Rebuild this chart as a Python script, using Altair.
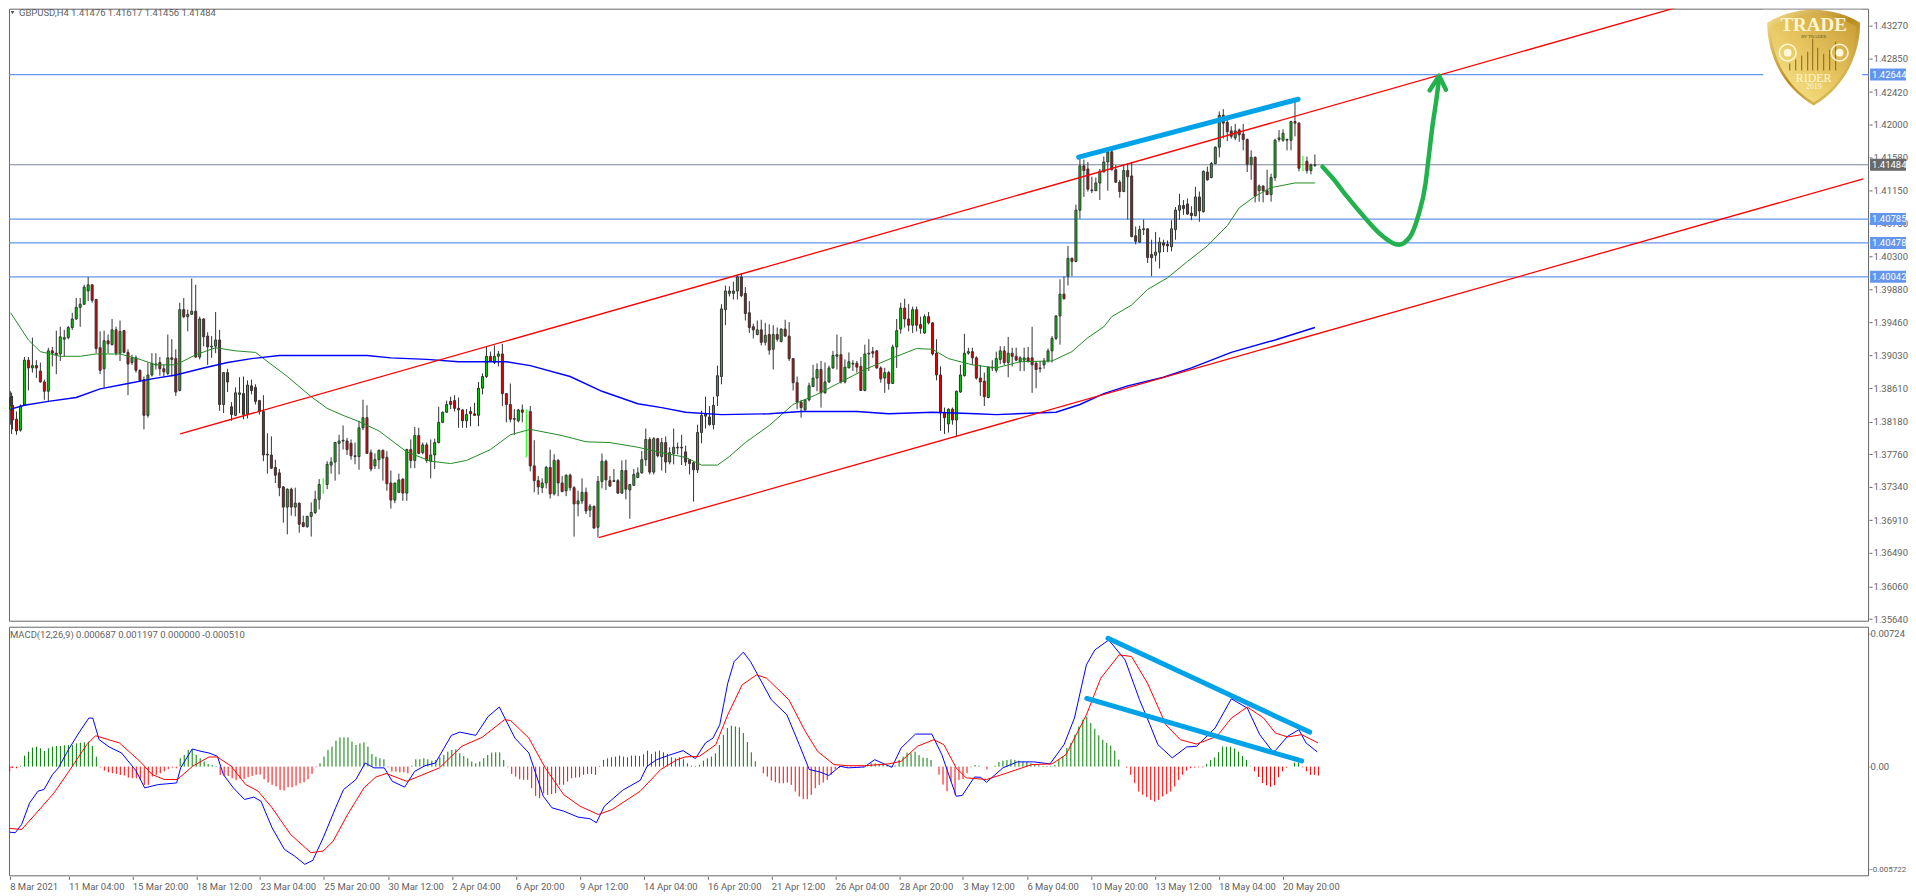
import altair as alt
import pandas as pd

# Prices are kept in pips above 1.36000
BASE = 1.36
opens = [233,250,239,221,207,239,297,287,290,283,269,257,309,306,305,324,326,339,350,365,
369,386,394,375,313,286,322,317,336,306,335,307,294,300,284,272,226,278,291,294,
286,280,300,299,258,362,353,356,360,301,350,328,314,315,323,240,281,237,226,253,
254,228,264,262,245,231,176,175,159,152,134,108,131,108,113,88,83,96,101,118,
138,137,162,166,190,194,193,190,173,173,210,223,178,161,169,181,172,139,117,127,
144,126,182,168,200,178,188,167,175,191,217,230,244,245,235,233,219,231,228,226,
261,276,302,294,302,305,254,240,222,219,233,231,231,161,142,133,139,159,125,168,
139,129,149,133,112,116,127,104,109,82,141,167,142,141,142,126,155,130,136,146,
152,169,195,153,196,173,191,166,177,185,185,179,169,165,156,204,225,224,214,251,
276,362,383,383,386,404,383,358,340,330,336,320,330,311,330,321,337,328,299,268,
243,233,246,263,274,285,255,269,287,302,304,269,287,292,293,289,258,305,308,309,
287,274,281,267,314,337,364,350,342,362,343,332,353,345,306,278,230,215,234,220,
256,277,306,308,300,274,270,249,287,284,298,309,294,306,302,295,297,300,300,293,
287,291,296,309,325,354,382,405,428,424,490,547,543,516,515,525,539,552,565,542,
526,514,541,534,457,449,465,466,433,432,436,448,446,443,465,490,496,498,486,483,
507,488,539,532,550,571,612,603,592,583,593,588,581,549,558,515,521,515,510,532,
581,580,580,580,604,602,544,553,541,547.6]
highs = [257,255,251,231,240,301,301,326,297,294,272,313,314,335,340,336,341,358,377,377,
394,404,394,376,334,335,330,350,340,348,336,311,304,303,285,276,294,306,306,301,
291,330,324,311,371,377,362,402,394,353,351,333,328,359,336,281,286,243,262,275,
276,271,272,266,246,252,203,199,169,157,135,132,133,133,114,97,97,114,129,144,
145,167,172,192,201,213,197,195,191,219,246,239,182,177,182,182,180,155,139,151,
145,183,195,211,210,191,191,195,196,237,231,245,250,252,249,234,234,237,242,269,
280,314,308,316,309,318,254,267,234,234,240,234,238,194,148,145,161,182,176,170,
148,150,151,135,129,145,133,112,110,148,177,169,148,157,144,168,169,137,157,159,
180,209,198,198,197,197,199,185,209,191,201,187,170,167,214,232,250,238,250,290,
369,393,392,398,407,409,391,373,344,348,349,345,343,342,339,338,349,346,299,276,
246,246,268,291,293,296,294,290,309,330,327,298,307,297,296,301,317,324,314,310,
289,287,283,317,350,371,376,369,366,366,353,356,359,346,324,289,236,235,236,258,
291,331,313,313,302,291,281,289,297,308,315,315,327,313,313,302,313,314,340,296,
296,300,312,328,354,401,405,444,429,497,558,555,552,533,532,543,559,570,570,548,
529,549,550,552,469,470,478,466,452,462,455,452,451,477,494,511,503,505,495,520,
514,541,546,552,572,617,620,610,598,601,595,601,582,567,559,523,522,542,537,582,
593,594,582,605,630,603,560,559,550,561.7]
lows = [214,202,208,201,205,238,258,281,274,268,246,243,289,279,296,302,324,336,349,340,
368,373,371,306,279,262,306,316,303,296,306,252,291,281,270,208,223,276,285,277,
276,278,276,251,257,351,334,356,300,298,315,291,300,306,232,229,256,219,225,229,
221,222,253,240,227,167,151,157,139,122,88,73,97,96,75,82,81,70,99,105,
125,131,151,142,150,182,175,169,163,156,207,177,154,157,157,142,129,106,113,126,
116,116,158,158,176,176,165,145,157,190,216,229,234,231,210,210,210,212,226,212,
253,274,295,292,289,238,217,217,201,217,217,172,154,127,124,126,132,119,123,122,
127,122,129,70,96,112,99,95,80,69,132,130,134,141,125,125,118,93,136,146,
151,161,150,150,172,155,152,163,163,176,162,161,150,115,152,190,209,213,208,238,
266,342,379,375,375,378,348,332,325,329,316,316,304,285,321,320,327,296,258,234,
223,232,244,263,257,236,254,268,286,285,267,267,287,283,281,258,257,283,300,286,
268,255,259,267,287,331,339,334,332,334,331,331,343,303,271,206,202,204,214,199,
255,276,304,291,272,251,238,248,283,281,292,291,275,289,296,283,283,294,255,261,
281,286,294,294,323,317,375,393,405,423,479,507,514,512,515,503,539,515,541,525,
506,513,478,455,446,448,458,422,405,424,415,436,436,437,452,478,484,484,477,482,
475,487,528,531,549,558,582,579,582,580,578,567,539,529,500,501,500,510,501,528,
578,578,567,567,585,540,540,537,536,545.6]
closes = [249,238,220,206,238,297,287,290,287,269,257,309,306,304,327,326,339,350,365,369,
391,394,374,312,284,322,318,336,306,334,307,292,300,284,271,226,278,293,292,286,
282,300,298,256,362,353,356,360,301,350,327,314,315,323,240,281,269,227,255,255,
227,265,258,244,231,175,175,158,149,133,108,131,108,113,86,83,96,101,118,137,
138,163,166,191,193,193,182,174,174,210,223,177,157,169,181,171,138,117,139,143,
126,182,168,200,177,188,168,175,191,217,230,240,240,235,233,219,227,228,226,261,
276,302,296,302,305,254,240,221,221,233,230,231,161,142,134,139,159,125,168,139,
128,149,133,112,116,127,103,109,81,141,167,143,135,142,126,155,131,137,150,152,
169,195,153,196,174,191,166,178,185,184,184,166,164,156,204,226,228,214,239,277,
363,386,386,386,404,380,357,339,336,336,320,329,310,330,324,337,328,299,268,243,
236,246,264,274,285,255,269,287,303,304,269,288,295,293,288,258,305,306,306,287,
273,281,267,314,335,364,350,342,362,342,338,353,345,305,278,229,223,234,220,257,
278,306,308,300,274,269,250,288,288,299,309,294,306,302,297,300,300,296,291,285,
286,296,309,325,354,382,376,428,424,490,547,541,517,515,525,540,552,565,542,526,
514,541,533,456,450,465,466,429,429,436,449,445,444,466,490,496,492,485,483,507,
489,540,529,550,571,612,602,591,585,592,587,581,549,558,508,521,515,510,532,580,
583,589,581,604,602,544,544,541,548,548.4]

ma_green_bar = [0,6,9,14,19,23,29,34,38,43,48,53,58,63,71,77,81,85,89,94,101,107,112,116,122,127,132,140,146,152,159,165,171,175,179,182,186,192,198,204,210,216,222,229,233,237,243,249,255,263,268,272,276,278,283,287,292,297,302,307,310,314,318,324,329]
ma_green = [358,323,308,302,302,305,305,298,291,291,304,313,309,307,276,250,235,226,218,206,179,167,164,168,182,201,208,200,192,191,185,178,172,162,162,173,191,213,240,253,269,285,298,312,311,299,291,287,295,296,308,326,340,353,368,388,403,424,444,470,493,508,519,525,525]
ma_blue_bar = [0,5,11,18,24,31,37,43,50,56,62,69,91,97,106,114,126,132,142,150,159,165,171,180,192,200,214,222,233,244,249,264,270,276,282,291,298,308,319,329]
ma_blue = [234,239,244,249,260,267,273,278,287,294,299,303,303,300,298,295,295,290,276,257,241,236,230,227,228,231,231,228,230,228,227,230,240,254,264,275,287,307,323,339]

levels_blue = [1.42644, 1.40785, 1.40478, 1.40042]
level_last = 1.41484
price_ticks = [1.43270,1.42850,1.42420,1.42000,1.41580,1.41150,1.40730,1.40300,1.39880,1.39460,1.39030,1.38610,1.38180,1.37760,1.37340,1.36910,1.36490,1.36060,1.35640]

channel_up_bar = [44.1, 424.3]
channel_up = [202.2, 757.3]
channel_low_bar = [149.2, 466.7]
channel_low = [68.6, 530.3]
thick_price_bar = [269.7, 324.8]
thick_price = [558.2, 632.7]
arrow_bar = [330.9,333.5,337,341.6,345.7,350,352.9,354.9,356.8,357.5,358.5,359.5,360.2]
arrow = [546,531,508,480,458,445.5,456,482,525,555,597.5,632,660]
arrowhead_bar = [357.8,360.2,361.9]
arrowhead = [644,663,645]

# MACD values in units of 0.00001
macd_bar = [0,2.7,4.3,6.3,8.4,9.9,12,13.5,16,18.6,21.1,22.1,23.7,26.2,29.3,32.9,35.1,38.5,40.5,43.1,44.1,47,49.2,51.2,53.3,54.8,57.3,60.1,62.4,64.2,67,70.1,72.6,75.2,77.2,79.8,82.9,84.9,88,90.3,92.5,95.1,97.1,100.2,102.7,105.3,107.9,111.9,114,118,121.1,123.9,127.8,131.3,134.9,137.1,140,143.6,146.6,148.2,150.2,154.8,159.2,
160.9,163.3,166.3,169.9,173,175.5,177.4,179.1,181.1,182.7,185,186.8,192,195.9,199,201.5,204.1,206.4,209.2,211.2,215.3,217.9,222.2,224.5,228.1,232.2,234.7,238.3,239.8,242.9,244.4,245.9,250,253.6,257.7,261.8,265.3,267.9,270.9,273,276.5,280.6,284.2,286.8,288.8,292.4,296,298.5,303.1,307.2,311.2,314.3,317.6,318.2,321.3,324.1,325.9,328.7]
macd_val = [-361,-364,-318,-199,-135,-126,-44,-7,93,185,267,267,148,108,75,-22,-117,-99,-95,-90,-7,97,84,75,57,-44,-117,-181,-168,-190,-337,-456,-492,-538,-516,-392,-227,-126,-71,20,-7,-7,-81,-113,-26,5,20,172,190,172,276,328,157,75,-163,-227,-245,-278,-287,-309,-218,-130,-75,
2,38,62,88,44,130,157,231,459,578,630,578,368,285,121,-16,-29,-49,2,-7,-2,38,-4,102,179,179,66,-163,-159,-57,-59,-86,-7,26,26,15,121,267,560,642,697,587,368,231,121,48,108,112,212,373,322,176,81,88,167,203,130,81]
signal_bar = [0,4.3,8.4,12.4,17,20.6,22.8,28.8,33.9,37,40,43.3,47.1,51.2,53.3,56.8,60.4,63.5,67,71.6,76.7,79.8,82.3,85.9,90,93,95.6,100.7,104.8,108.9,114.5,119.6,125.2,126.7,131.3,135.4,140,144.1,148.7,152.2,159.2,
164.3,168.4,170.4,174,178.1,181.1,184.7,188.3,190.8,196.4,200.5,203.6,207.7,211.2,215.3,221.4,224.5,228.6,232.7,235.2,238.3,240.8,245.9,251,257.2,262.3,265.8,270.9,274.5,279.1,282.2,286.2,290.8,294.4,298.5,303.6,307.2,311.2,315.3,318.2,321.3,324.8,328.9]
signal_val = [-340,-346,-245,-145,2,121,170,130,29,-44,-71,-71,2,53,53,2,-99,-135,-227,-373,-474,-465,-410,-264,-117,-57,-38,-81,-44,-7,112,161,258,254,157,-7,-154,-218,-264,-236,-135,
-16,38,53,57,121,285,450,505,487,368,194,84,11,5,5,15,29,112,148,121,-7,-62,-71,-35,11,15,66,285,487,615,606,459,231,148,124,167,267,328,267,185,163,176,130]
hist = [-14,-4,-4,-5,2,33,45,57,60,55,47,55,60,62,62,64,65,65,70,72,
73,75,62,30,-2,-12,-17,-20,-22,-25,-27,-33,-35,-35,-40,-55,-55,-30,-25,-20,
-14,-8,-3,-5,25,35,50,52,35,25,15,8,5,2,-25,-28,-28,-35,-40,-37,
-37,-32,-28,-25,-24,-38,-48,-55,-60,-70,-72,-62,-62,-57,-50,-47,-38,-22,-2,10,
30,50,60,78,88,88,88,75,65,70,73,60,38,30,25,22,-2,-15,-15,-17,
-17,-20,3,22,22,25,22,18,20,28,35,45,50,52,40,32,25,15,10,15,
25,35,42,43,43,20,-2,-22,-30,-38,-40,-40,-65,-88,-95,-80,-85,-83,-80,-55,
-55,-45,-35,-33,-32,-25,-22,-22,-25,2,20,25,28,30,33,30,28,33,33,32,
37,48,38,45,48,43,38,28,25,28,22,10,3,2,5,18,25,30,40,65,
95,116,123,121,118,101,74,43,16,0,-20,-30,-42,-47,-50,-50,-48,-55,-75,-90,
-98,-98,-85,-65,-55,-48,-40,-25,-8,-4,2,-3,-2,-2,-3,-2,5,10,10,8,
8,5,2,3,20,30,42,40,45,35,27,26,20,0,-24,-54,-74,-44,-84,-40,
-38,-20,-2,5,3,0,-8,0,3,14,18,20,22,20,18,14,14,10,6,4,
2,2,2,5,21,31,56,71,96,121,141,150,131,114,94,81,71,63,48,21,
0,-3,-25,-50,-75,-85,-92,-100,-105,-100,-90,-83,-75,-60,-40,-25,-12,-5,-3,-2,
-2,8,20,28,43,60,60,60,55,45,32,20,1,-14,-31,-49,-56,-61,-56,-32,
-14,-3,0,12,12,-2,-14,-25,-25,-27]
HIST_UNIT = 1.83e-5
thick1_bar = [276.3, 326.8]
thick1 = [706, 190]
thick2_bar = [271, 324.8]
thick2 = [375, 31]

date_ticks = [16*k for k in range(21)]
date_labels = ["8 Mar 2021","11 Mar 04:00","15 Mar 20:00","18 Mar 12:00","23 Mar 04:00","25 Mar 20:00","30 Mar 12:00","2 Apr 04:00","6 Apr 20:00","9 Apr 12:00","14 Apr 04:00","16 Apr 20:00","21 Apr 12:00","26 Apr 04:00","28 Apr 20:00","3 May 12:00","6 May 04:00","10 May 20:00","13 May 12:00","18 May 04:00","20 May 20:00"]

FONT = "Roboto"
FS = 9.5
TXT = "#5f5f5f"
W, H1, H2 = 1863, 614, 250
xs = alt.Scale(domain=[-0.5, 2, 466.875], range=[0, 3.5, W], nice=False, zero=False)
ys = alt.Scale(domain=[1.35605, 1.43492], nice=False, zero=False)
ms = alt.Scale(domain=[-0.00604, 0.00770], nice=False, zero=False)

axis_y = alt.Axis(orient="right", values=price_ticks, title=None, grid=False, domain=False, tickSize=3,
                  tickColor="#666666", labelFont=FONT, labelFontSize=FS, labelColor=TXT, labelPadding=1,
                  labelExpr="format(datum.value,'.5f')", labelOverlap=False)
axis_m = alt.Axis(orient="right", values=[0.00734, 0, -0.00566], title=None, grid=False, domain=False, tickSize=1,
                  tickColor="#666666", labelFont=FONT, labelColor=TXT, labelPadding=0,
                  labelFontSize={"condition": {"test": "datum.value < -0.005", "value": 8}, "value": FS},
                  labelExpr="datum.value>0.005?'0.00724':(datum.value<-0.005?'-0.005722':'0.00')")
axis_x = alt.Axis(values=date_ticks, title=None, grid=False, domain=False, tickSize=3, tickColor="#666666",
                  labelFont=FONT, labelFontSize=FS, labelColor=TXT, labelAlign="left", labelPadding=2, labelOverlap=False,
                  labelBound=False, labelFlush=False,
                  labelExpr="[" + ",".join(f"'{d}'" for d in date_labels) + "][round(datum.value/16)]")

px = lambda v: BASE + v / 10000
X = alt.X("bar:Q", scale=xs, axis=None)
XM = alt.X("bar:Q", scale=xs, axis=axis_x)
Y = alt.Y("p:Q", scale=ys, axis=axis_y)
Y2 = alt.Y("m:Q", scale=ms, axis=axis_m)

cd = pd.DataFrame({"bar": range(len(opens)), "o": opens, "h": highs, "l": lows, "c": closes})
for k in "ohlc":
    cd[k] = cd[k].map(px)
cd["wick"] = ["#00ff00" if a == b else "#333333" for a, b in zip(cd.o, cd.c)]
cd["fill"] = ["#00d000" if b > a else "#e00000" for a, b in zip(cd.o, cd.c)]
body_df = cd[cd.o != cd.c]


def line_df(b, v, conv=px):
    return pd.DataFrame({"bar": b, "p": [conv(a) for a in v]})


def mline_df(b, v):
    return pd.DataFrame({"bar": b, "m": [a * 1e-5 for a in v]})


one = pd.DataFrame({"a": [0]})


def frame(h):
    return alt.Chart(one).mark_rect(fill="white", stroke="#666666", strokeWidth=1).encode(
        x=alt.value(0.5), x2=alt.value(W - 0.5), y=alt.value(0.5), y2=alt.value(h - 0.5))


hline_df = pd.DataFrame({"p": levels_blue})
last_df = pd.DataFrame({"p": [level_last]})
box_df = pd.DataFrame({"p": levels_blue + [level_last],
                       "t": ["1.42644", "1.40785", "1.40478", "1.40042", "1.41484"],
                       "col": ["#6495ed"] * 4 + ["#696969"]})

layers = [
    frame(H1),
    alt.Chart(hline_df).mark_rule(color="#6495ed", strokeWidth=1.2).encode(y=Y),
    alt.Chart(last_df).mark_rule(color="#778899", strokeWidth=1.2).encode(y=Y),
    alt.Chart(cd).mark_rule(strokeWidth=1, clip=True).encode(x=X, y=alt.Y("l:Q", scale=ys, axis=axis_y), y2="h:Q", color=alt.Color("wick:N", scale=None)),
    alt.Chart(body_df).mark_bar(size=2, stroke="#333333", strokeWidth=1, clip=True).encode(x=X, y=alt.Y("o:Q", scale=ys, axis=axis_y), y2="c:Q", fill=alt.Fill("fill:N", scale=None)),
    alt.Chart(line_df(ma_green_bar, ma_green)).mark_line(color="#228b22", strokeWidth=1, clip=True).encode(x=X, y=Y),
    alt.Chart(line_df(ma_blue_bar, ma_blue)).mark_line(color="#0000ff", strokeWidth=1.4, clip=True).encode(x=X, y=Y),
    alt.Chart(line_df(channel_up_bar, channel_up)).mark_line(color="#ff0000", strokeWidth=1.3, clip=True).encode(x=X, y=Y),
    alt.Chart(line_df(channel_low_bar, channel_low)).mark_line(color="#ff0000", strokeWidth=1.3, clip=True).encode(x=X, y=Y),
    alt.Chart(line_df(thick_price_bar, thick_price)).mark_line(color="#00a2e8", strokeWidth=5, strokeCap="round").encode(x=X, y=Y),
    alt.Chart(line_df(arrow_bar, arrow)).mark_line(color="#22b14c", strokeWidth=4.5, strokeCap="round", interpolate="monotone").encode(x=X, y=Y),
    alt.Chart(line_df(arrowhead_bar, arrowhead)).mark_line(color="#22b14c", strokeWidth=4.5, strokeCap="round", strokeJoin="round").encode(x=X, y=Y),
]

# Logo: drawn as decoration in pixels of the panel
SHIELD = "M0,-1 C0.35,-1 0.7,-0.9 0.97,-0.73 C0.97,-0.2 0.75,0.55 0,1 C-0.75,0.55 -0.97,-0.2 -0.97,-0.73 C-0.7,-0.9 -0.35,-1 0,-1 Z"
gold_out = alt.LinearGradient(gradient="linear", x1=0, x2=1, y1=0, y2=1, stops=[
    alt.GradientStop(color="#f6e08c", offset=0), alt.GradientStop(color="#b98a22", offset=0.5), alt.GradientStop(color="#f3dc83", offset=1)])
gold_in = alt.LinearGradient(gradient="linear", x1=1, x2=0, y1=0, y2=1, stops=[
    alt.GradientStop(color="#c99b32", offset=0), alt.GradientStop(color="#e9c965", offset=0.55), alt.GradientStop(color="#f8e890", offset=1)])
LOGO_X, LOGO_Y = 1807.5, 49
logo_bars_x = [-24, -18, -12, -6, -1, 4, 10, 16, 22]
logo_bars_top = [6, 2, -2, -6, -19, -10, -4, -8, -16]
logo_bars_bot = [13, 13, 13, 13, 13, 13, 13, 13, 13]
logo = [
    alt.Chart(one).mark_rect(fill="white").encode(x=alt.value(1757), x2=alt.value(1856), y=alt.value(1), y2=alt.value(103)),
    alt.Chart(one).mark_point(shape=SHIELD, size=9216, filled=True, fill=gold_out, opacity=1, clip=True).encode(x=alt.value(LOGO_X), y=alt.value(LOGO_Y)),
    alt.Chart(one).mark_point(shape=SHIELD, size=7700, filled=True, fill=gold_in, opacity=1).encode(x=alt.value(LOGO_X), y=alt.value(LOGO_Y + 1)),
]
for bx, bt, bb in zip(logo_bars_x, logo_bars_top, logo_bars_bot):
    logo.append(alt.Chart(one).mark_rule(color="#9a7420", strokeWidth=1.2).encode(
        x=alt.value(LOGO_X + bx), y=alt.value(LOGO_Y + bt), y2=alt.value(LOGO_Y + bb)))
for cx in [-26, 26]:
    logo.append(alt.Chart(one).mark_point(shape="circle", size=280, filled=False, stroke="#fff8dc", strokeWidth=1.6, opacity=1).encode(
        x=alt.value(LOGO_X + cx), y=alt.value(LOGO_Y - 5)))
    logo.append(alt.Chart(one).mark_point(shape="circle", size=60, filled=True, fill="#fff8dc", opacity=1).encode(
        x=alt.value(LOGO_X + cx), y=alt.value(LOGO_Y - 5)))
logo_text = [("TRADE", -33, 19, "bold"), ("RIDER", 20, 12, "normal"), ("2019", 29, 8, "normal"), ("BY TRADER", -21, 4.5, "normal")]
for t, dy, fs, w in logo_text:
    logo.append(alt.Chart(one).mark_text(text=t, font="Liberation Serif", fontSize=fs, fontWeight=w, align="center", baseline="middle",
                                         color="#fff6d0" if fs > 5 else "#6d5214").encode(x=alt.value(LOGO_X), y=alt.value(LOGO_Y + dy)))

header = [
    alt.Chart(one).mark_point(shape="triangle-down", size=14, filled=True, color="#555555", opacity=1, clip=True).encode(x=alt.value(3.5), y=alt.value(4)),
    alt.Chart(one).mark_text(text="GBPUSD,H4  1.41476 1.41617 1.41456 1.41484", font=FONT, fontSize=FS, align="left", baseline="middle", color=TXT, clip=True).encode(
        x=alt.value(10), y=alt.value(4)),
]
boxes = [
    alt.Chart(box_df).mark_rect(height=12).encode(x=alt.value(1864), x2=alt.value(1900), y=Y, fill=alt.Fill("col:N", scale=None)),
    alt.Chart(box_df).mark_text(font=FONT, fontSize=FS, align="left", baseline="middle", color="white").encode(x=alt.value(1866), y=Y, text="t:N"),
]

price = alt.layer(*layers, *logo, *header, *boxes).properties(width=W, height=H1)

hist_df = pd.DataFrame({"bar": range(len(hist)), "m": [v * HIST_UNIT for v in hist], "z": [0.0] * len(hist),
                        "col": ["#008000" if v > 0 else "#ff0000" for v in hist]})
hist_df = hist_df[hist_df.m != 0]

macd = alt.layer(
    frame(H2),
    alt.Chart(hist_df).mark_rule(strokeWidth=1, clip=True).encode(x=XM, y=Y2, y2="z:Q", color=alt.Color("col:N", scale=None)),
    alt.Chart(mline_df(macd_bar, macd_val)).mark_line(color="#0000ff", strokeWidth=1, clip=True).encode(x=XM, y=Y2),
    alt.Chart(mline_df(signal_bar, signal_val)).mark_line(color="#ff0000", strokeWidth=1, clip=True).encode(x=XM, y=Y2),
    alt.Chart(mline_df(thick1_bar, thick1)).mark_line(color="#00a2e8", strokeWidth=5, strokeCap="round").encode(x=XM, y=Y2),
    alt.Chart(mline_df(thick2_bar, thick2)).mark_line(color="#00a2e8", strokeWidth=5, strokeCap="round").encode(x=XM, y=Y2),
    alt.Chart(one).mark_text(text="MACD(12,26,9) 0.000687 0.001197 0.000000 -0.000510", font=FONT, fontSize=FS, align="left", baseline="middle", color=TXT).encode(
        x=alt.value(1), y=alt.value(8)),
).properties(width=W, height=H2)

chart = alt.vconcat(price, macd, spacing=3).properties(padding=0, background="white").configure_view(stroke=None)

chart.save("out.html", embed_options={"renderer": "svg", "actions": False})
